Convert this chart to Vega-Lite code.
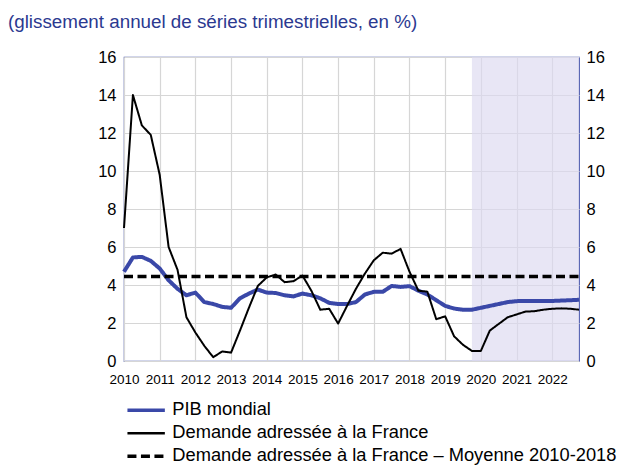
{
  "$schema": "https://vega.github.io/schema/vega-lite/v6.json",
  "autosize": {"type": "none"},
  "padding": {"left": 124, "top": 57, "right": 47, "bottom": 105},
  "width": 455,
  "height": 304,
  "title": {
    "text": "(glissement annuel de séries trimestrielles, en %)",
    "anchor": "start",
    "frame": "group",
    "dx": -116,
    "offset": 17,
    "font": "Liberation Sans",
    "fontSize": 18.8,
    "fontWeight": "normal",
    "color": "#2b3990"
  },
  "config": {
    "font": "Liberation Sans",
    "view": {"stroke": "#4a58ad", "strokeWidth": 1.2},
    "axis": {
      "grid": true,
      "gridColor": "#d6d6d6",
      "gridWidth": 1.2,
      "ticks": false,
      "domain": false,
      "labelColor": "#000000",
      "labelFont": "Liberation Sans",
      "title": null
    },
    "axisX": {
      "labelFontSize": 13.5,
      "labelPadding": 11,
      "labelOverlap": false,
      "labelBound": false,
      "labelFlush": false,
      "values": [2010, 2011, 2012, 2013, 2014, 2015, 2016, 2017, 2018, 2019, 2020, 2021, 2022],
      "format": "d"
    },
    "legend": {
      "orient": "none",
      "legendX": 13,
      "legendY": 344,
      "title": null,
      "labelFontSize": 18.3,
      "labelColor": "#000000",
      "labelFont": "Liberation Sans",
      "labelLimit": 0,
      "symbolType": "stroke",
      "symbolSize": 1400,
      "symbolStrokeWidth": 3,
      "labelOffset": 17,
      "rowPadding": 4
    }
  },
  "datasets": {
    "pib": [
      {"t": 2010.0, "serie": "PIB mondial", "v": 4.7},
      {"t": 2010.25, "serie": "PIB mondial", "v": 5.45},
      {"t": 2010.5, "serie": "PIB mondial", "v": 5.48},
      {"t": 2010.75, "serie": "PIB mondial", "v": 5.27},
      {"t": 2011.0, "serie": "PIB mondial", "v": 4.87},
      {"t": 2011.25, "serie": "PIB mondial", "v": 4.25},
      {"t": 2011.5, "serie": "PIB mondial", "v": 3.8},
      {"t": 2011.75, "serie": "PIB mondial", "v": 3.46},
      {"t": 2012.0, "serie": "PIB mondial", "v": 3.6},
      {"t": 2012.25, "serie": "PIB mondial", "v": 3.1},
      {"t": 2012.5, "serie": "PIB mondial", "v": 3.0},
      {"t": 2012.75, "serie": "PIB mondial", "v": 2.85},
      {"t": 2013.0, "serie": "PIB mondial", "v": 2.8},
      {"t": 2013.25, "serie": "PIB mondial", "v": 3.3},
      {"t": 2013.5, "serie": "PIB mondial", "v": 3.55},
      {"t": 2013.75, "serie": "PIB mondial", "v": 3.76},
      {"t": 2014.0, "serie": "PIB mondial", "v": 3.6},
      {"t": 2014.25, "serie": "PIB mondial", "v": 3.58},
      {"t": 2014.5, "serie": "PIB mondial", "v": 3.46},
      {"t": 2014.75, "serie": "PIB mondial", "v": 3.4},
      {"t": 2015.0, "serie": "PIB mondial", "v": 3.55},
      {"t": 2015.25, "serie": "PIB mondial", "v": 3.46},
      {"t": 2015.5, "serie": "PIB mondial", "v": 3.3},
      {"t": 2015.75, "serie": "PIB mondial", "v": 3.06},
      {"t": 2016.0, "serie": "PIB mondial", "v": 3.0},
      {"t": 2016.25, "serie": "PIB mondial", "v": 3.0},
      {"t": 2016.5, "serie": "PIB mondial", "v": 3.1},
      {"t": 2016.75, "serie": "PIB mondial", "v": 3.5},
      {"t": 2017.0, "serie": "PIB mondial", "v": 3.64},
      {"t": 2017.25, "serie": "PIB mondial", "v": 3.64},
      {"t": 2017.5, "serie": "PIB mondial", "v": 3.95},
      {"t": 2017.75, "serie": "PIB mondial", "v": 3.9},
      {"t": 2018.0, "serie": "PIB mondial", "v": 3.94},
      {"t": 2018.25, "serie": "PIB mondial", "v": 3.7},
      {"t": 2018.5, "serie": "PIB mondial", "v": 3.5},
      {"t": 2018.75, "serie": "PIB mondial", "v": 3.2},
      {"t": 2019.0, "serie": "PIB mondial", "v": 2.9},
      {"t": 2019.25, "serie": "PIB mondial", "v": 2.76},
      {"t": 2019.5, "serie": "PIB mondial", "v": 2.7},
      {"t": 2019.75, "serie": "PIB mondial", "v": 2.7},
      {"t": 2020.0, "serie": "PIB mondial", "v": 2.8},
      {"t": 2020.25, "serie": "PIB mondial", "v": 2.9},
      {"t": 2020.5, "serie": "PIB mondial", "v": 3.0},
      {"t": 2020.75, "serie": "PIB mondial", "v": 3.1},
      {"t": 2021.0, "serie": "PIB mondial", "v": 3.15},
      {"t": 2021.25, "serie": "PIB mondial", "v": 3.16},
      {"t": 2021.5, "serie": "PIB mondial", "v": 3.16},
      {"t": 2021.75, "serie": "PIB mondial", "v": 3.16},
      {"t": 2022.0, "serie": "PIB mondial", "v": 3.16},
      {"t": 2022.25, "serie": "PIB mondial", "v": 3.18},
      {"t": 2022.5, "serie": "PIB mondial", "v": 3.2},
      {"t": 2022.75, "serie": "PIB mondial", "v": 3.22}
    ],
    "demande": [
      {"t": 2010.0, "serie": "Demande adressée à la France", "v": 7.0},
      {"t": 2010.25, "serie": "Demande adressée à la France", "v": 14.0},
      {"t": 2010.5, "serie": "Demande adressée à la France", "v": 12.4},
      {"t": 2010.75, "serie": "Demande adressée à la France", "v": 11.9},
      {"t": 2011.0, "serie": "Demande adressée à la France", "v": 9.8},
      {"t": 2011.25, "serie": "Demande adressée à la France", "v": 6.0},
      {"t": 2011.5, "serie": "Demande adressée à la France", "v": 4.8},
      {"t": 2011.75, "serie": "Demande adressée à la France", "v": 2.3},
      {"t": 2012.0, "serie": "Demande adressée à la France", "v": 1.5},
      {"t": 2012.25, "serie": "Demande adressée à la France", "v": 0.8},
      {"t": 2012.5, "serie": "Demande adressée à la France", "v": 0.2},
      {"t": 2012.75, "serie": "Demande adressée à la France", "v": 0.5},
      {"t": 2013.0, "serie": "Demande adressée à la France", "v": 0.44},
      {"t": 2013.25, "serie": "Demande adressée à la France", "v": 1.6},
      {"t": 2013.5, "serie": "Demande adressée à la France", "v": 2.8},
      {"t": 2013.75, "serie": "Demande adressée à la France", "v": 3.95},
      {"t": 2014.0, "serie": "Demande adressée à la France", "v": 4.4},
      {"t": 2014.25, "serie": "Demande adressée à la France", "v": 4.55},
      {"t": 2014.5, "serie": "Demande adressée à la France", "v": 4.15},
      {"t": 2014.75, "serie": "Demande adressée à la France", "v": 4.2},
      {"t": 2015.0, "serie": "Demande adressée à la France", "v": 4.5},
      {"t": 2015.25, "serie": "Demande adressée à la France", "v": 3.7},
      {"t": 2015.5, "serie": "Demande adressée à la France", "v": 2.7},
      {"t": 2015.75, "serie": "Demande adressée à la France", "v": 2.75},
      {"t": 2016.0, "serie": "Demande adressée à la France", "v": 1.97},
      {"t": 2016.25, "serie": "Demande adressée à la France", "v": 2.9},
      {"t": 2016.5, "serie": "Demande adressée à la France", "v": 3.8},
      {"t": 2016.75, "serie": "Demande adressée à la France", "v": 4.6},
      {"t": 2017.0, "serie": "Demande adressée à la France", "v": 5.3},
      {"t": 2017.25, "serie": "Demande adressée à la France", "v": 5.7},
      {"t": 2017.5, "serie": "Demande adressée à la France", "v": 5.65},
      {"t": 2017.75, "serie": "Demande adressée à la France", "v": 5.9},
      {"t": 2018.0, "serie": "Demande adressée à la France", "v": 4.7},
      {"t": 2018.25, "serie": "Demande adressée à la France", "v": 3.7},
      {"t": 2018.5, "serie": "Demande adressée à la France", "v": 3.65},
      {"t": 2018.75, "serie": "Demande adressée à la France", "v": 2.2},
      {"t": 2019.0, "serie": "Demande adressée à la France", "v": 2.35},
      {"t": 2019.25, "serie": "Demande adressée à la France", "v": 1.3},
      {"t": 2019.5, "serie": "Demande adressée à la France", "v": 0.85},
      {"t": 2019.75, "serie": "Demande adressée à la France", "v": 0.53},
      {"t": 2020.0, "serie": "Demande adressée à la France", "v": 0.53},
      {"t": 2020.25, "serie": "Demande adressée à la France", "v": 1.6},
      {"t": 2020.5, "serie": "Demande adressée à la France", "v": 1.95},
      {"t": 2020.75, "serie": "Demande adressée à la France", "v": 2.3},
      {"t": 2021.0, "serie": "Demande adressée à la France", "v": 2.45},
      {"t": 2021.25, "serie": "Demande adressée à la France", "v": 2.6},
      {"t": 2021.5, "serie": "Demande adressée à la France", "v": 2.62},
      {"t": 2021.75, "serie": "Demande adressée à la France", "v": 2.7},
      {"t": 2022.0, "serie": "Demande adressée à la France", "v": 2.75},
      {"t": 2022.25, "serie": "Demande adressée à la France", "v": 2.77},
      {"t": 2022.5, "serie": "Demande adressée à la France", "v": 2.75},
      {"t": 2022.75, "serie": "Demande adressée à la France", "v": 2.7}
    ],
    "moyenne": [
      {"t": 2010.0, "serie": "Demande adressée à la France – Moyenne 2010-2018", "v": 4.45},
      {"t": 2022.75, "serie": "Demande adressée à la France – Moyenne 2010-2018", "v": 4.45}
    ],
    "zone": [
      {"debut": 2019.75, "fin": 2022.75}
    ]
  },
  "resolve": {"axis": {"y": "independent"}},
  "layer": [
    {
      "data": {"name": "zone"},
      "mark": {"type": "rect", "color": "#dcd8f0", "opacity": 0.65},
      "encoding": {
        "x": {"field": "debut", "type": "quantitative", "scale": {"domain": [2010, 2022.75], "nice": false, "zero": false}},
        "x2": {"field": "fin"}
      }
    },
    {
      "data": {"name": "pib"},
      "mark": {"type": "line", "strokeJoin": "round", "strokeWidth": 4},
      "encoding": {
        "x": {"field": "t", "type": "quantitative"},
        "y": {"field": "v", "type": "quantitative", "scale": {"domain": [0, 16], "nice": false},
          "axis": {"orient": "left", "values": [0, 2, 4, 6, 8, 10, 12, 14, 16], "labelFontSize": 16.5, "labelPadding": 8}},
        "color": {"field": "serie", "type": "nominal",
          "scale": {"domain": ["PIB mondial", "Demande adressée à la France", "Demande adressée à la France – Moyenne 2010-2018"], "range": ["#3a48a8", "#000000", "#000000"]},
          "legend": {"encode": {"symbols": {"update": {"strokeWidth": {"signal": "datum.value === 'PIB mondial' ? 3.5 : datum.value === 'Demande adressée à la France' ? 2.5 : 3.5"}}}}}},
        "strokeDash": {"field": "serie", "type": "nominal",
          "scale": {"domain": ["PIB mondial", "Demande adressée à la France", "Demande adressée à la France – Moyenne 2010-2018"], "range": [[1, 0], [1, 0], [9, 4.5]]}},
        "order": {"field": "t", "type": "quantitative"}
      }
    },
    {
      "data": {"name": "moyenne"},
      "mark": {"type": "line", "strokeWidth": 3.5},
      "encoding": {
        "x": {"field": "t", "type": "quantitative"},
        "y": {"field": "v", "type": "quantitative",
          "axis": {"orient": "right", "values": [0, 2, 4, 6, 8, 10, 12, 14, 16], "labelFontSize": 16.5, "labelPadding": 7, "grid": false}},
        "color": {"field": "serie", "type": "nominal"},
        "strokeDash": {"field": "serie", "type": "nominal"}
      }
    },
    {
      "data": {"name": "demande"},
      "mark": {"type": "line", "strokeJoin": "round", "strokeWidth": 2},
      "encoding": {
        "x": {"field": "t", "type": "quantitative"},
        "y": {"field": "v", "type": "quantitative", "axis": null},
        "color": {"field": "serie", "type": "nominal"},
        "strokeDash": {"field": "serie", "type": "nominal"},
        "order": {"field": "t", "type": "quantitative"}
      }
    }
  ]
}
